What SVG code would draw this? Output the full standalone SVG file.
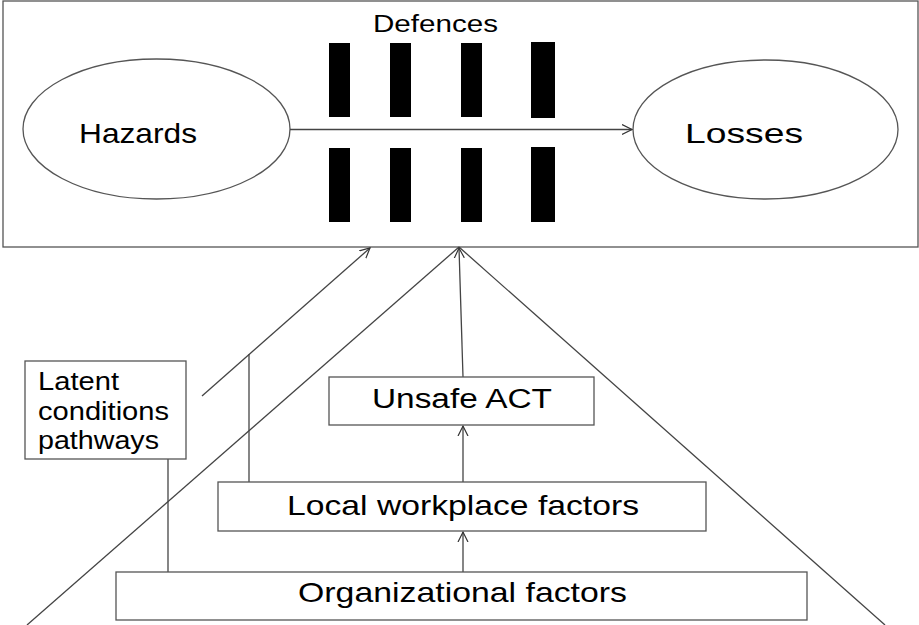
<svg xmlns="http://www.w3.org/2000/svg" width="919" height="625" viewBox="0 0 919 625">
<defs>
<style>
.box{fill:#fff;stroke:#555;stroke-width:1.3}
.ell{fill:#fff;stroke:#555;stroke-width:1.3}
.bar{fill:#000}
.ln{fill:none;stroke:#444;stroke-width:1.3}
.t{font-family:"Liberation Sans",Arial,sans-serif;fill:#000}
</style>
<marker id="arr" markerWidth="12" markerHeight="12" refX="10" refY="5" orient="auto" markerUnits="userSpaceOnUse" viewBox="0 0 12 10">
<path d="M0,0 L10,5 L0,10" fill="none" stroke="#333" stroke-width="1.2"/>
</marker>
</defs>
<rect width="919" height="625" fill="#fff"/>
<g id="system">
<rect class="box" x="3" y="1" width="915" height="246"/>
<text class="t" x="373" y="32" font-size="23" textLength="125" lengthAdjust="spacingAndGlyphs">Defences</text>
</g>
<g id="defences">
<rect class="bar" x="329" y="43" width="21" height="74"/>
<rect class="bar" x="390" y="43" width="21" height="74"/>
<rect class="bar" x="461" y="43" width="21" height="74"/>
<rect class="bar" x="531" y="42" width="24" height="76"/>
<rect class="bar" x="329" y="148" width="21" height="74"/>
<rect class="bar" x="390" y="148" width="21" height="74"/>
<rect class="bar" x="461" y="148" width="21" height="74"/>
<rect class="bar" x="531" y="147" width="24" height="75"/>
</g>
<g id="hazards">
<ellipse class="ell" cx="156.5" cy="129" rx="133.5" ry="70"/>
<text class="t" x="79" y="143" font-size="28" textLength="118" lengthAdjust="spacingAndGlyphs">Hazards</text>
</g>
<g id="losses">
<ellipse class="ell" cx="765.5" cy="129.5" rx="132.5" ry="69.5"/>
<text class="t" x="685" y="143" font-size="28" textLength="118" lengthAdjust="spacingAndGlyphs">Losses</text>
</g>
<g id="connectors">
<line class="ln" x1="290" y1="129.5" x2="632" y2="129.5" marker-end="url(#arr)"/>
<line class="ln" x1="27" y1="625" x2="459" y2="247"/>
<line class="ln" x1="459" y1="247" x2="885" y2="625"/>
<line class="ln" x1="463" y1="377" x2="459" y2="248" marker-end="url(#arr)"/>
<line class="ln" x1="463" y1="482" x2="463" y2="426" marker-end="url(#arr)"/>
<line class="ln" x1="463" y1="572" x2="463" y2="532" marker-end="url(#arr)"/>
<line class="ln" x1="202" y1="396" x2="370" y2="248" marker-end="url(#arr)"/>
<line class="ln" x1="249" y1="354" x2="249" y2="482"/>
<line class="ln" x1="168" y1="459" x2="168" y2="572"/>
</g>
<g id="latent">
<rect class="box" x="25" y="361" width="161" height="98"/>
<text class="t" font-size="25">
<tspan x="38" y="390" textLength="81" lengthAdjust="spacingAndGlyphs">Latent</tspan>
<tspan x="38" y="420" textLength="131" lengthAdjust="spacingAndGlyphs">conditions</tspan>
<tspan x="38" y="449" textLength="121" lengthAdjust="spacingAndGlyphs">pathways</tspan>
</text>
</g>
<g id="unsafe">
<rect class="box" x="329" y="377" width="265" height="48"/>
<text class="t" x="372" y="408" font-size="27" textLength="180" lengthAdjust="spacingAndGlyphs">Unsafe ACT</text>
</g>
<g id="local">
<rect class="box" x="218" y="482" width="488" height="49"/>
<text class="t" x="287" y="515" font-size="28" textLength="352" lengthAdjust="spacingAndGlyphs">Local workplace factors</text>
</g>
<g id="org">
<rect class="box" x="116" y="572" width="691" height="48"/>
<text class="t" x="298" y="602" font-size="28" textLength="329" lengthAdjust="spacingAndGlyphs">Organizational factors</text>
</g>
</svg>
